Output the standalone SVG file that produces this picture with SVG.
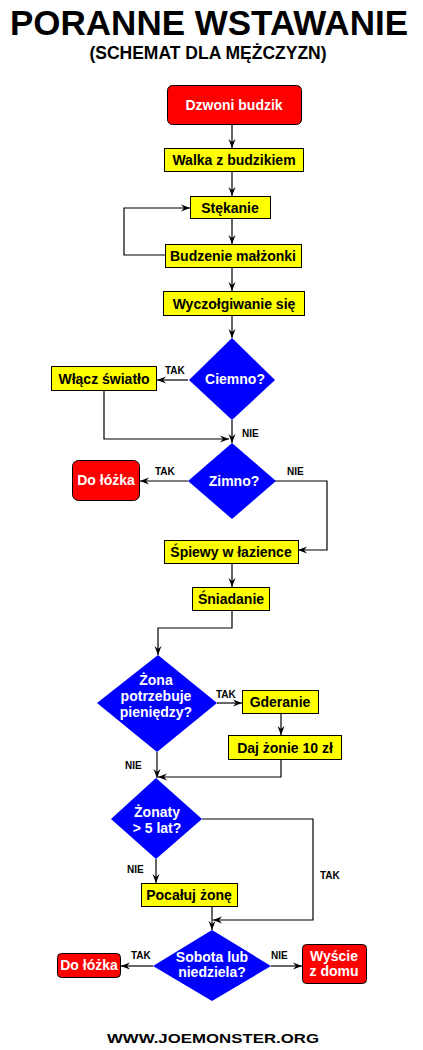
<svg xmlns="http://www.w3.org/2000/svg" width="423" height="1050" viewBox="0 0 423 1050">
<defs>
<style>
.t{font-family:"Liberation Sans",Arial,sans-serif;font-weight:bold;text-anchor:middle}
.box{fill:#FFFF00;stroke:#000;stroke-width:1}
.red{fill:#FF0000;stroke:#000;stroke-width:1}
.dia{fill:#0000FF}
.bt{font-family:"Liberation Sans",Arial,sans-serif;font-weight:bold;font-size:14px;text-anchor:middle;fill:#000}
.wt{font-family:"Liberation Sans",Arial,sans-serif;font-weight:bold;font-size:14px;text-anchor:middle;fill:#fff}
.lb{font-family:"Liberation Sans",Arial,sans-serif;font-weight:bold;font-size:10px;fill:#000}
.c{fill:none;stroke:#000;stroke-width:1.2}
</style>
<marker id="ah" markerUnits="userSpaceOnUse" markerWidth="10" markerHeight="8" refX="9" refY="4" orient="auto">
<path d="M0,0.5 L9,4 L0,7.5 L3,4 Z" fill="#000"/>
</marker>
</defs>
<rect width="423" height="1050" fill="#fff"/>
<g id="title">
<text class="t" x="209" y="35" font-size="35">PORANNE WSTAWANIE</text>
<text class="t" x="208" y="59" font-size="17.5">(SCHEMAT DLA MĘŻCZYZN)</text>
</g>
<g id="connectors">
<path class="c" d="M232,124 V148" marker-end="url(#ah)"/>
<path class="c" d="M232,172 V196" marker-end="url(#ah)"/>
<path class="c" d="M232,219 V244" marker-end="url(#ah)"/>
<path class="c" d="M165,255 H124 V208 H190" marker-end="url(#ah)"/>
<path class="c" d="M232,267 V291" marker-end="url(#ah)"/>
<path class="c" d="M232,315 V338" marker-end="url(#ah)"/>
<path class="c" d="M188,380 H157" marker-end="url(#ah)"/>
<path class="c" d="M104,391 V439 H229" marker-end="url(#ah)"/>
<path class="c" d="M232,420 V443" marker-end="url(#ah)"/>
<path class="c" d="M188,481 H140" marker-end="url(#ah)"/>
<path class="c" d="M275,481 H327 V550 H298" marker-end="url(#ah)"/>
<path class="c" d="M232,563 V587" marker-end="url(#ah)"/>
<path class="c" d="M232,610 V628 H158 V655" marker-end="url(#ah)"/>
<path class="c" d="M217,703 H242" marker-end="url(#ah)"/>
<path class="c" d="M281,713 V735" marker-end="url(#ah)"/>
<path class="c" d="M281,759 V777 H158" marker-end="url(#ah)"/>
<path class="c" d="M157,752 V778" marker-end="url(#ah)"/>
<path class="c" d="M202,819 H313 V920 H213" marker-end="url(#ah)"/>
<path class="c" d="M156,859 V883" marker-end="url(#ah)"/>
<path class="c" d="M212,906 V930" marker-end="url(#ah)"/>
<path class="c" d="M153,966 H121" marker-end="url(#ah)"/>
<path class="c" d="M271,966 H302" marker-end="url(#ah)"/>
<text class="lb" x="165" y="374">TAK</text>
<text class="lb" x="242" y="437">NIE</text>
<text class="lb" x="155" y="475">TAK</text>
<text class="lb" x="287" y="475">NIE</text>
<text class="lb" x="216" y="698">TAK</text>
<text class="lb" x="125" y="769">NIE</text>
<text class="lb" x="320" y="879">TAK</text>
<text class="lb" x="127" y="873">NIE</text>
<text class="lb" x="131" y="959">TAK</text>
<text class="lb" x="271" y="959">NIE</text>
</g>
<g id="n-dzwoni"><rect class="red" x="167.5" y="85.5" width="134" height="39" rx="5"/><text class="wt" x="234" y="110">Dzwoni budzik</text></g>
<g id="n-walka"><rect class="box" x="164.5" y="148.5" width="139" height="23"/><text class="bt" x="234" y="165">Walka z budzikiem</text></g>
<g id="n-stekanie"><rect class="box" x="190.5" y="196.5" width="80" height="22"/><text class="bt" x="230" y="213">Stękanie</text></g>
<g id="n-budzenie"><rect class="box" x="165.5" y="244.5" width="136" height="23"/><text class="bt" x="233" y="261">Budzenie małżonki</text></g>
<g id="n-wyczolg"><rect class="box" x="163.5" y="291.5" width="141" height="24"/><text class="bt" x="234" y="309">Wyczołgiwanie się</text></g>
<g id="n-ciemno"><path class="dia" d="M232,338 L275,380 L232,420 L189,380 Z"/><text class="wt" x="235" y="384">Ciemno?</text></g>
<g id="n-wlacz"><rect class="box" x="51.5" y="366.5" width="105" height="24"/><text class="bt" x="104" y="384">Włącz światło</text></g>
<g id="n-zimno"><path class="dia" d="M232,443 L276,481 L232,519 L188,481 Z"/><text class="wt" x="234" y="486">Zimno?</text></g>
<g id="n-dolozka1"><rect class="red" x="72.5" y="460.5" width="67" height="40" rx="6"/><text class="wt" x="106" y="485">Do łóżka</text></g>
<g id="n-spiewy"><rect class="box" x="164.5" y="540.5" width="134" height="23"/><text class="bt" x="231" y="557">Śpiewy w łazience</text></g>
<g id="n-sniadanie"><rect class="box" x="192.5" y="587.5" width="77" height="23"/><text class="bt" x="231" y="604">Śniadanie</text></g>
<g id="n-zona"><path class="dia" d="M158,655 L217,703 L157,752 L97,703 Z"/><text class="wt" x="156" y="685">Żona</text><text class="wt" x="156" y="701">potrzebuje</text><text class="wt" x="156" y="717">pieniędzy?</text></g>
<g id="n-gderanie"><rect class="box" x="242.5" y="690.5" width="76" height="23"/><text class="bt" x="280" y="707">Gderanie</text></g>
<g id="n-daj"><rect class="box" x="228.5" y="735.5" width="113" height="24"/><text class="bt" x="285" y="753">Daj żonie 10 zł</text></g>
<g id="n-zonaty"><path class="dia" d="M156,778 L202,819 L156,859 L111,819 Z"/><text class="wt" x="157" y="817">Żonaty</text><text class="wt" x="157" y="833">&gt; 5 lat?</text></g>
<g id="n-pocaluj"><rect class="box" x="141.5" y="883.5" width="96" height="23"/><text class="bt" x="189" y="900">Pocałuj żonę</text></g>
<g id="n-sobota"><path class="dia" d="M212,930 L271,966 L212,1001 L153,966 Z"/><text class="wt" x="212" y="962">Sobota lub</text><text class="wt" x="212" y="977">niedziela?</text></g>
<g id="n-dolozka2"><rect class="red" x="57.5" y="953.5" width="63" height="24" rx="4"/><text class="wt" x="89" y="970">Do łóżka</text></g>
<g id="n-wyscie"><rect class="red" x="302.5" y="944.5" width="64" height="39" rx="4"/><text class="wt" x="334" y="961">Wyście</text><text class="wt" x="334" y="976">z domu</text></g>
<g id="footer"><text class="t" x="213" y="1043" font-size="12" textLength="212" lengthAdjust="spacingAndGlyphs">WWW.JOEMONSTER.ORG</text></g>
</svg>
